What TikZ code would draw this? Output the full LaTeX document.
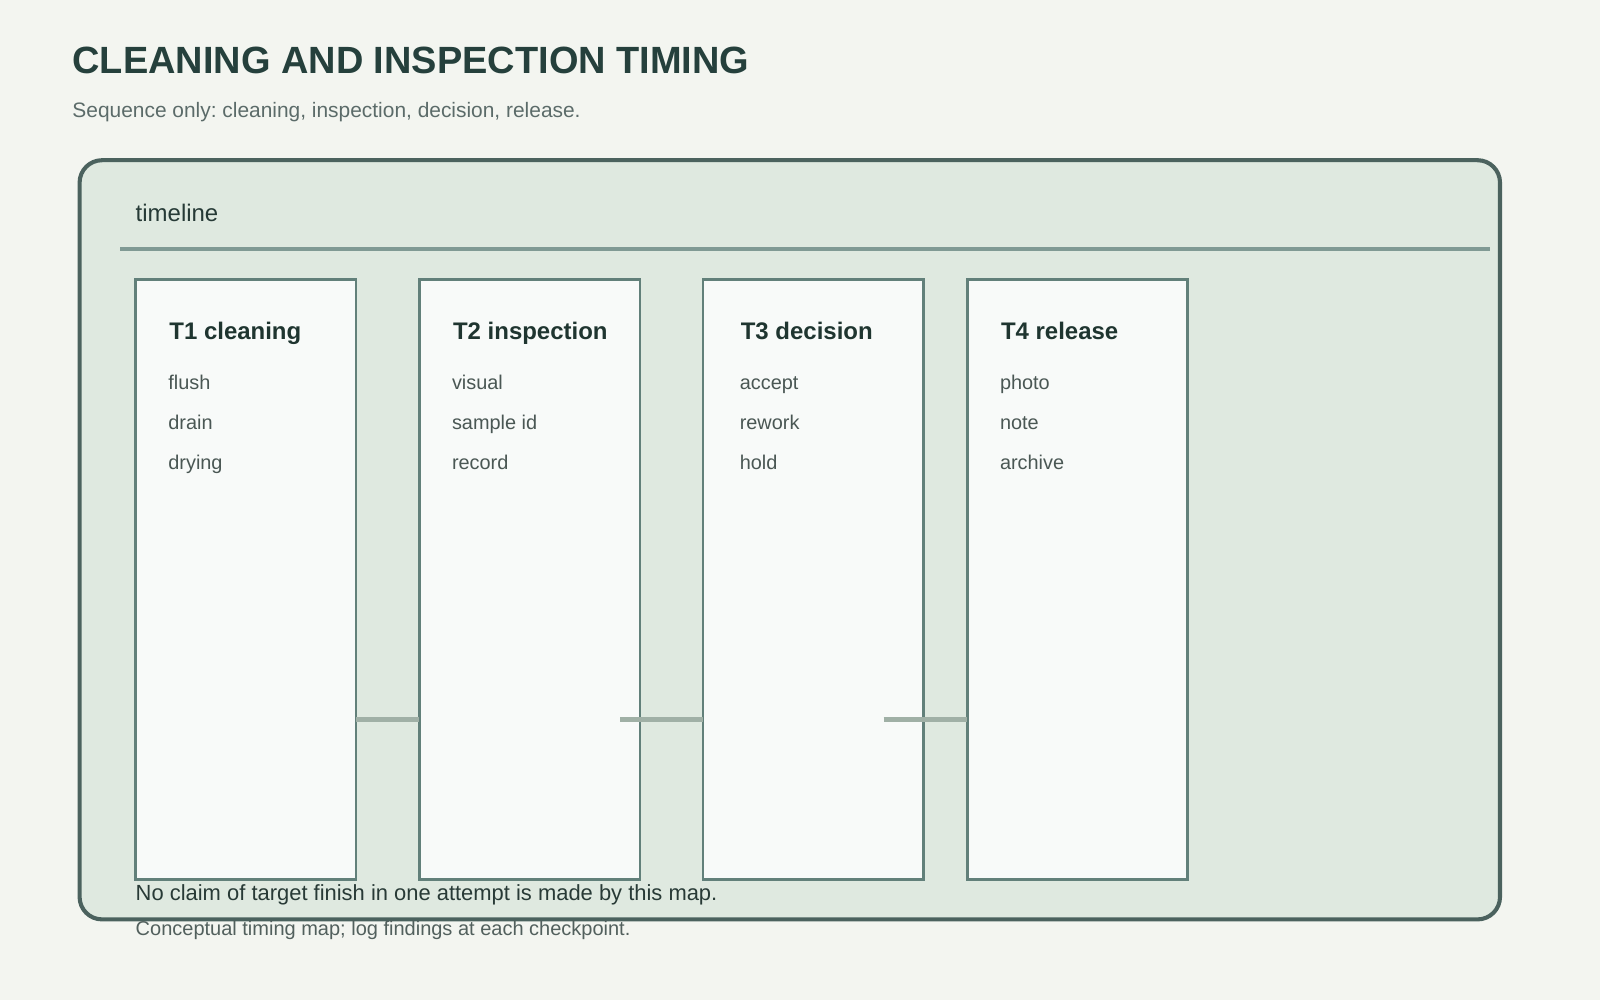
\documentclass[tikz,border=0pt]{standalone}
\usepackage{fontspec}
\setmainfont{Liberation Sans}
\frenchspacing
\definecolor{bgc}{HTML}{F3F5F0}
\definecolor{framefill}{HTML}{DFE9E0}
\definecolor{framedraw}{HTML}{4B625E}
\definecolor{titlec}{HTML}{25403C}
\definecolor{subc}{HTML}{5B6B69}
\definecolor{tlc}{HTML}{263A36}
\definecolor{sepc}{HTML}{809A94}
\definecolor{boxfill}{HTML}{F8FAF9}
\definecolor{boxdraw}{HTML}{62807A}
\definecolor{boxtitle}{HTML}{1F3530}
\definecolor{itemc}{HTML}{4A5754}
\definecolor{connc}{HTML}{A0B0A6}
\definecolor{note1}{HTML}{283A36}
\definecolor{note2}{HTML}{52605D}
\begin{document}
\begin{tikzpicture}[x=1pt,y=-1pt,
  txt/.style={anchor=base west,inner sep=0pt,outer sep=0pt},
  stage/.style={draw=boxdraw,fill=boxfill,line width=2.5pt,anchor=north west,
    minimum width=216pt,minimum height=588pt,inner sep=0pt,outer sep=0pt},
  stagetitle/.style={txt,font=\fontsize{23.5}{27}\selectfont\bfseries,text=boxtitle},
  item/.style={txt,font=\fontsize{19.5}{23}\selectfont,text=itemc},
  conn/.style={draw=connc,line width=5pt}]
\useasboundingbox[fill=bgc] (0,0) rectangle (1568,980);
\node[txt,font=\fontsize{37.2}{42}\selectfont\bfseries,text=titlec] (title) at (71,72.5) {CLEANING AND INSPECTION TIMING};
\node[txt,font=\fontsize{20.5}{24}\selectfont,text=subc] (sub) at (71,115) {Sequence only: cleaning, inspection, decision, release.};
\draw[draw=framedraw,fill=framefill,line width=4pt,rounded corners=22pt] (78,157) rectangle (1470,901);
\node[txt,font=\fontsize{23.5}{27}\selectfont,text=tlc] (tl) at (133,217) {timeline};
\coordinate (sepL) at (118,244);
\coordinate (sepR) at (1460,244);
\draw[draw=sepc,line width=3pt] (sepL) -- (sepR);
% stages
\node[stage] (t1) at (133,274) {};
\node[stage] (t2) at (411,274) {};
\node[stage] (t3) at (689,274) {};
\node[stage] (t4) at (948,274) {};
\node[stagetitle] (h1) at (166,333) {T1 cleaning};
\node[item] at (165,382) {flush};
\node[item] at (165,421) {drain};
\node[item] at (165,460) {drying};
\node[stagetitle] (h2) at (444,333) {T2 inspection};
\node[item] at (443,382) {visual};
\node[item] at (443,421) {sample id};
\node[item] at (443,460) {record};
\node[stagetitle] (h3) at (726,333) {T3 decision};
\node[item] at (725,382) {accept};
\node[item] at (725,421) {rework};
\node[item] at (725,460) {hold};
\node[stagetitle] (h4) at (981,333) {T4 release};
\node[item] at (980,382) {photo};
\node[item] at (980,421) {note};
\node[item] at (980,460) {archive};
% connectors
\coordinate (cy) at (0,705);
\draw[conn] (t1.east |- cy) -- (t2.west |- cy);
\draw[conn] ([xshift=-19pt]t2.east |- cy) -- (t3.west |- cy);
\draw[conn] ([xshift=-39pt]t3.east |- cy) -- (t4.west |- cy);
% notes
\node[txt,font=\fontsize{21.5}{25}\selectfont,text=note1] (n1) at (133,882) {No claim of target finish in one attempt is made by this map.};
\node[txt,font=\fontsize{19.6}{23}\selectfont,text=note2] (n2) at (133,917) {Conceptual timing map; log findings at each checkpoint.};
\end{tikzpicture}
\end{document}
